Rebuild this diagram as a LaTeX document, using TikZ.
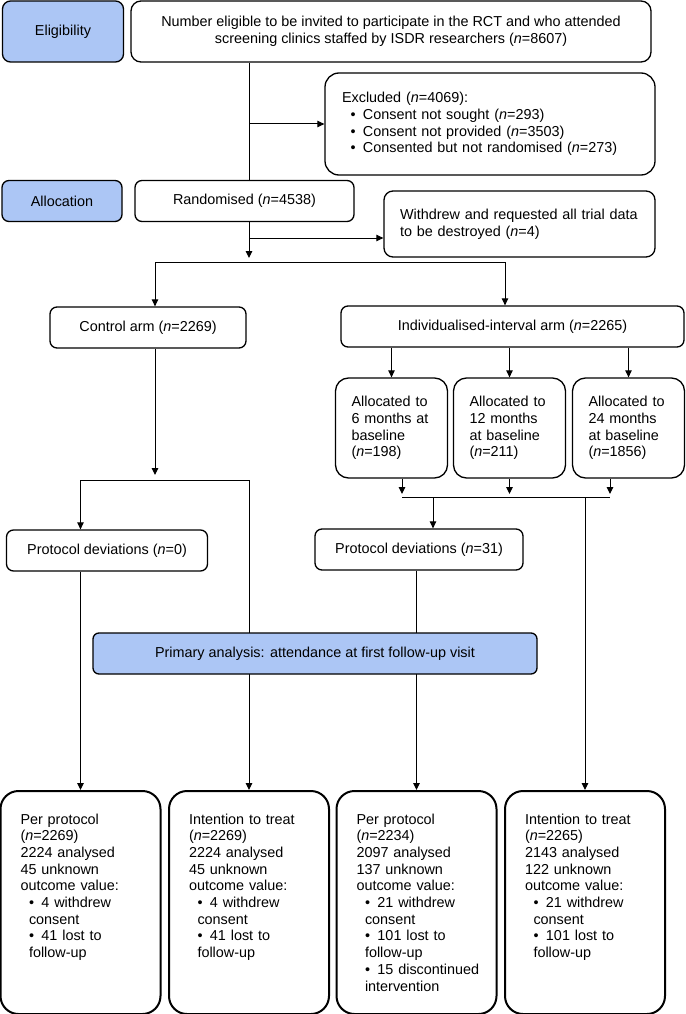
\documentclass[tikz,border=0pt]{standalone}
\usepackage{fontspec}
\setmainfont{Liberation Sans}
\usetikzlibrary{arrows.meta}
\definecolor{stageblue}{RGB}{172,198,245}
\newcommand{\nn}{\textit{n}}
\newcommand{\bul}[1]{\hspace*{8.5pt}\makebox[12.5pt][l]{\textbullet}\mbox{#1}}
\newcommand{\bulcont}[1]{\hspace*{8.5pt}#1}

\begin{document}
\begin{tikzpicture}[x=1pt, y=-1pt,
		font=\fontsize{14.4pt}{16.7pt}\selectfont,
		box/.style={draw, line width=1.3pt, rounded corners=7pt, minimum height=41pt, align=center},
		stage/.style={box, fill=stageblue, minimum width=121pt},
		armbox/.style={box, text width=80pt, align=left, inner xsep=16pt, minimum height=100pt, rounded corners=13pt},
		outcome/.style={draw, line width=2pt, rounded corners=18pt, anchor=north, text width=120pt,
			inner xsep=20pt, inner ysep=21pt, align=left, text height=12pt, text depth=169pt},
		link/.style={line width=1pt},
		arr/.style={link, -{Triangle[length=7pt,width=6.5pt]}}]
	\useasboundingbox (0,0) rectangle (685,1014);

	\node[stage, minimum height=61pt, rounded corners=8pt] (elig) at (63,31.5) {Eligibility};
	\node[box, minimum width=520pt, minimum height=61pt, rounded corners=10pt] (screen) at (391,31.5)
		{Number eligible to be invited to participate in the RCT and who attended\\
		screening clinics staffed by ISDR researchers (\nn=8607)};
	\node[box, text width=296pt, align=left, inner xsep=17pt, minimum height=102pt, rounded corners=14pt] (excl) at (490,124)
		{Excluded (\nn=4069):\\
		\bul{Consent not sought (\nn=293)}\\
		\bul{Consent not provided (\nn=3503)}\\
		\bul{Consented but not randomised (\nn=273)}};

	\node[stage, minimum width=120pt] (alloc) at (62,201) {Allocation};
	\node[box, minimum width=219pt] (rand) at (244.5,201) {Randomised (\nn=4538)};
	\node[box, text width=239pt, align=left, inner xsep=16pt, minimum height=66pt, rounded corners=9pt] (withdrew) at (519.5,224)
		{Withdrew and requested all trial data\\to be destroyed (\nn=4)};

	\node[box, minimum width=196pt] (ctrl) at (148,327.5) {Control arm (\nn=2269)};
	\node[box, minimum width=343pt] (indiv) at (512.5,326.5) {Individualised-interval arm (\nn=2265)};
	\node[armbox] (m6) at (391.5,428) {Allocated to\\6 months at\\baseline\\(\nn=198)};
	\node[armbox] (m12) at (509.5,428) {Allocated to\\12 months\\at baseline\\(\nn=211)};
	\node[armbox] (m24) at (628.5,428) {Allocated to\\24 months\\at baseline\\(\nn=1856)};

	\node[box, minimum width=201pt] (pd0) at (107,550.5) {Protocol deviations (\nn=0)};
	\node[box, minimum width=208pt] (pd31) at (419,549.5) {Protocol deviations (\nn=31)};

	\node[outcome] (pp1) at (80.5,790) {Per protocol\\(\nn=2269)\\2224 analysed\\45 unknown\\outcome value:\\
		\bul{4 withdrew}\\\bulcont{consent}\\\bul{41 lost to}\\\bulcont{follow-up}};
	\node[outcome] (itt1) at (249,790) {Intention to treat\\(\nn=2269)\\2224 analysed\\45 unknown\\outcome value:\\
		\bul{4 withdrew}\\\bulcont{consent}\\\bul{41 lost to}\\\bulcont{follow-up}};
	\node[outcome] (pp2) at (416.5,790) {Per protocol\\(\nn=2234)\\2097 analysed\\137 unknown\\outcome value:\\
		\bul{21 withdrew}\\\bulcont{consent}\\\bul{101 lost to}\\\bulcont{follow-up}\\
		\bul{15 discontinued}\\\bulcont{intervention}};
	\node[outcome] (itt2) at (585,790) {Intention to treat\\(\nn=2265)\\2143 analysed\\122 unknown\\outcome value:\\
		\bul{21 withdrew}\\\bulcont{consent}\\\bul{101 lost to}\\\bulcont{follow-up}};

	\coordinate (ex) at (249,124);
	\coordinate (wd) at (249,238);
	\coordinate (split) at (249,262);
	\coordinate (sc) at (155,262);
	\coordinate (si) at (505,262);
	\coordinate (jc) at (155,480);
	\coordinate (ja1) at (402,497);
	\coordinate (ja) at (433,497);
	\coordinate (ja3) at (610,497);

	\draw[link] (ex |- screen.south) -- (ex |- rand.north);
	\draw[arr] (ex) -- (excl.west);
	\draw[arr, shorten >=4pt] (ex |- rand.south) -- (split);
	\draw[arr] (wd) -- (wd -| withdrew.west);
	\draw[link] (sc) -- (si);
	\draw[arr] (sc) -- (sc |- ctrl.north);
	\draw[arr] (si) -- (si |- indiv.north);
	\foreach \m in {m6, m12, m24} \draw[arr] (\m.north |- indiv.south) -- (\m.north);

	\draw[arr, shorten >=5pt] (jc |- ctrl.south) -- (jc);
	\draw[link] (pp1.north |- jc) -- (itt1.north |- jc);
	\draw[arr] (pp1.north |- jc) -- (pp1.north |- pd0.north);
	\draw[arr] (pp1.north |- pd0.south) -- (pp1.north);
	\draw[arr] (itt1.north |- jc) -- (itt1.north);

	\draw[link] (ja1) -- (ja3);
	\draw[arr, shorten >=3pt] (ja1 |- m6.south) -- (ja1);
	\draw[arr, shorten >=3pt] (m12.south) -- (m12.south |- ja1);
	\draw[arr, shorten >=3pt] (ja3 |- m24.south) -- (ja3);
	\draw[arr] (ja) -- (ja |- pd31.north);
	\draw[arr] (pp2.north |- pd31.south) -- (pp2.north);
	\draw[arr] (itt2.north |- ja) -- (itt2.north);

	\node[stage, minimum width=444pt, rounded corners=6pt] (primary) at (315,653.5)
		{Primary analysis: attendance at first follow-up visit};
\end{tikzpicture}
\end{document}
